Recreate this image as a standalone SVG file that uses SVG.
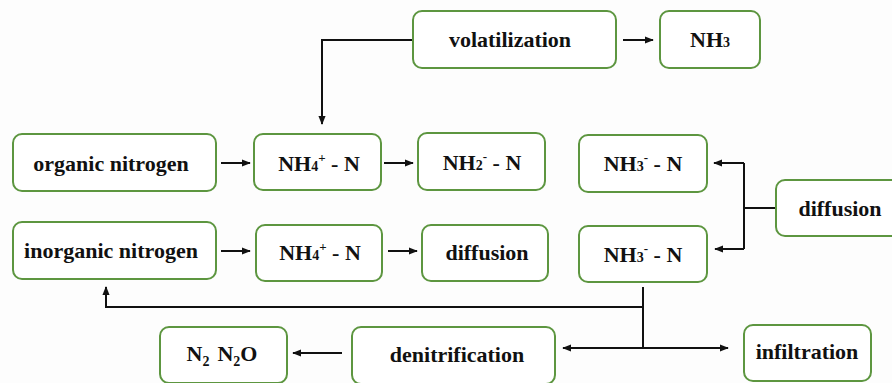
<svg xmlns="http://www.w3.org/2000/svg" width="892" height="383" viewBox="0 0 892 383">
<defs>
<marker id="ah" viewBox="0 0 10 10" refX="9" refY="5" markerWidth="9" markerHeight="9" markerUnits="userSpaceOnUse" orient="auto">
<path d="M0,1 L10,5 L0,9 Z" fill="#111"/>
</marker>
<style>
.box{fill:#fff;stroke:#5d9640;stroke-width:2}
text{font-family:'Liberation Serif','DejaVu Serif',serif;font-weight:bold;font-size:22px;fill:#111;text-anchor:middle}
.s{font-size:14px}
.sp{font-size:13px}
.c{fill:none;stroke:#111;stroke-width:2}
</style>
</defs>
<rect width="892" height="383" fill="#fdfdfd"/>
<g id="connectors">
<path class="c" d="M413,40 H322 V124" marker-end="url(#ah)"/>
<path class="c" d="M623,40 H653" marker-end="url(#ah)"/>
<path class="c" d="M221,163 H250" marker-end="url(#ah)"/>
<path class="c" d="M384,163 H413" marker-end="url(#ah)"/>
<path class="c" d="M776,208 H744"/>
<path class="c" d="M744,163 V249"/>
<path class="c" d="M744,163 H714" marker-end="url(#ah)"/>
<path class="c" d="M744,249 H715" marker-end="url(#ah)"/>
<path class="c" d="M221,251 H250" marker-end="url(#ah)"/>
<path class="c" d="M388,251 H417" marker-end="url(#ah)"/>
<path class="c" d="M643,287 V348"/>
<path class="c" d="M643,307 H106 V287" marker-end="url(#ah)"/>
<path class="c" d="M643,348 H563" marker-end="url(#ah)"/>
<path class="c" d="M643,348 H728" marker-end="url(#ah)"/>
<path class="c" d="M342,353 H293" marker-end="url(#ah)"/>
</g>
<g id="volatilization"><rect class="box" x="413" y="11" width="203" height="57" rx="9"/><text x="510" y="47">volatilization</text></g>
<g id="nh3"><rect class="box" x="660" y="11" width="100" height="57" rx="9"/><text x="710" y="47">NH<tspan class="s">3</tspan></text></g>
<g id="organic-nitrogen"><rect class="box" x="13" y="134" width="203" height="57" rx="9"/><text x="111" y="171">organic nitrogen</text></g>
<g id="nh4-top"><rect class="box" x="254" y="134" width="127" height="56" rx="9"/><text x="319" y="171">NH<tspan class="s">4</tspan><tspan class="sp" dy="-9">+</tspan><tspan dy="9"> - N</tspan></text></g>
<g id="nh2"><rect class="box" x="418" y="133" width="127" height="57" rx="9"/><text x="482" y="170">NH<tspan class="s">2</tspan><tspan class="sp" dy="-9">-</tspan><tspan dy="9"> - N</tspan></text></g>
<g id="nh3-top"><rect class="box" x="579" y="135" width="128" height="57" rx="9"/><text x="643" y="171">NH<tspan class="s">3</tspan><tspan class="sp" dy="-9">-</tspan><tspan dy="9"> - N</tspan></text></g>
<g id="diffusion-right"><rect class="box" x="776" y="180" width="130" height="56" rx="9"/><text x="840" y="216">diffusion</text></g>
<g id="inorganic-nitrogen"><rect class="box" x="13" y="222" width="203" height="57" rx="9"/><text x="111" y="258">inorganic nitrogen</text></g>
<g id="nh4-bottom"><rect class="box" x="256" y="225" width="126" height="56" rx="9"/><text x="320" y="260">NH<tspan class="s">4</tspan><tspan class="sp" dy="-9">+</tspan><tspan dy="9"> - N</tspan></text></g>
<g id="diffusion-mid"><rect class="box" x="422" y="225" width="126" height="56" rx="9"/><text x="487" y="260">diffusion</text></g>
<g id="nh3-bottom"><rect class="box" x="579" y="226" width="128" height="56" rx="9"/><text x="643" y="262">NH<tspan class="s">3</tspan><tspan class="sp" dy="-9">-</tspan><tspan dy="9"> - N</tspan></text></g>
<g id="n2-n2o"><rect class="box" x="160" y="327" width="127" height="56" rx="9"/><text x="222" y="361">N<tspan class="s" dy="5">2</tspan><tspan dy="-5" dx="8">N</tspan><tspan class="s" dy="5">2</tspan><tspan dy="-5">O</tspan></text></g>
<g id="denitrification"><rect class="box" x="352" y="327" width="203" height="57" rx="9"/><text x="457" y="362">denitrification</text></g>
<g id="infiltration"><rect class="box" x="744" y="325" width="127" height="56" rx="9"/><text x="807" y="359">infiltration</text></g>
</svg>
